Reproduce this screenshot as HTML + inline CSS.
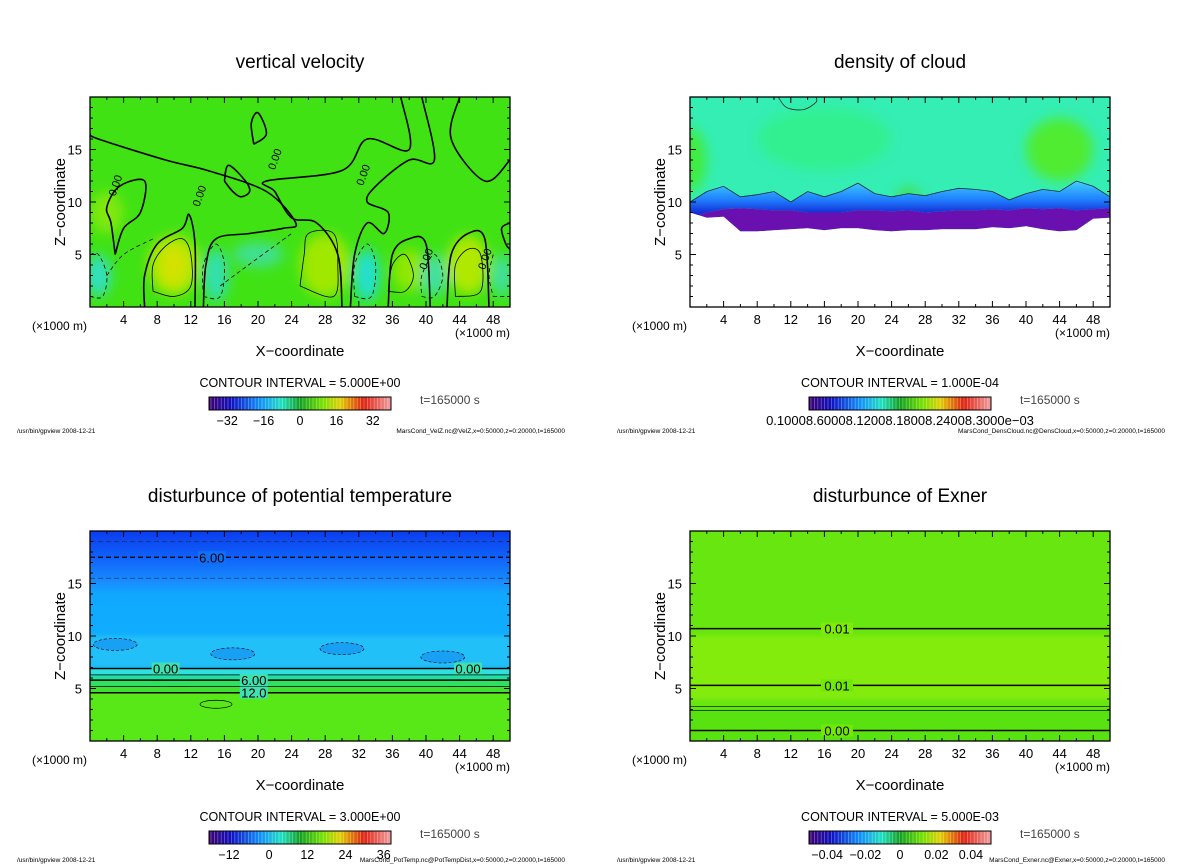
<!DOCTYPE html>
<html><head><meta charset="utf-8">
<style>
body{margin:0;background:#fff;width:1200px;height:868px;overflow:hidden;font-family:"Liberation Sans",sans-serif}
svg{position:absolute;left:0;top:0}
</style></head>
<body>
<svg id="root" width="1200" height="868" viewBox="0 0 1200 868">
<defs>
<filter id="blur6" x="-50%" y="-50%" width="200%" height="200%"><feGaussianBlur stdDeviation="6"/></filter>
<filter id="blur3"><feGaussianBlur stdDeviation="2.5"/></filter>
<linearGradient id="cbar" x1="0" x2="1" y1="0" y2="0">
<stop offset="0" stop-color="#400070"/><stop offset="0.12" stop-color="#1010c0"/><stop offset="0.28" stop-color="#1090ff"/><stop offset="0.4" stop-color="#20e0c0"/><stop offset="0.5" stop-color="#10a020"/><stop offset="0.62" stop-color="#70e000"/><stop offset="0.72" stop-color="#e0d000"/><stop offset="0.85" stop-color="#e02010"/><stop offset="1" stop-color="#f0a0a0"/>
</linearGradient>
<linearGradient id="tempTop" x1="0" x2="0" y1="0" y2="1">
<stop offset="0" stop-color="#0a3cf0"/><stop offset="0.12" stop-color="#1060f8"/><stop offset="0.25" stop-color="#1890ff"/><stop offset="0.3" stop-color="#10a8ff"/><stop offset="1" stop-color="#10b8ff"/>
</linearGradient>
<linearGradient id="cloudBand" x1="0" x2="0" y1="0" y2="1">
<stop offset="0" stop-color="#40d0ff"/><stop offset="0.5" stop-color="#2080ff"/><stop offset="1" stop-color="#1010c8"/>
</linearGradient>
</defs>
</svg>
<script>
// ---- data ----
const xTickVals=[4,8,12,16,20,24,28,32,36,40,44,48];
const zTickVals=[5,10,15];
const panelTitles=["vertical velocity","density of cloud","disturbunce of potential temperature","disturbunce of Exner"];
const intervals=["CONTOUR INTERVAL = 5.000E+00","CONTOUR INTERVAL = 1.000E-04","CONTOUR INTERVAL = 3.000E+00","CONTOUR INTERVAL = 5.000E-03"];
const cbLabels=[["-32","-16","0","16","32"],[],["-12","0","12","24","36"],["-0.04","-0.02","0","0.02","0.04"]];
const cbLabelFrac=[[0.1,0.3,0.5,0.7,0.9],[],[0.11,0.33,0.54,0.75,0.96],[0.1,0.31,0.5,0.7,0.89]];
const footers=["MarsCond_VelZ.nc@VelZ,x=0:50000,z=0:20000,t=165000","MarsCond_DensCloud.nc@DensCloud,x=0:50000,z=0:20000,t=165000","MarsCond_PotTemp.nc@PotTempDist,x=0:50000,z=0:20000,t=165000","MarsCond_Exner.nc@Exner,x=0:50000,z=0:20000,t=165000"];
const velBlobs=[[10,4,3,2.8,"#b8e800"],[10,4,1.2,1.8,"#d8e000"],[28,4,3,3,"#a0e800"],[45,4,2.5,2.8,"#b0e800"],[38,3.5,2,2,"#90e800"],[2,9,2,2,"#80e810"],
[1,3,1.5,2,"#30e0c0"],[15,3,1.5,2.5,"#30e0b0"],[33,3,1.5,2.5,"#20e0d0"],[41,3,1.5,2,"#40e0a0"],[49,3,1.2,2,"#40e0a0"],[20,5,3,1.2,"#40e090"]];
const velZeroLines=[
[[6.5,0],[6.5,3],[8,6],[11,7.5],[11.8,8.8],[12.5,6],[12.5,0]],
[[13.5,0],[13.8,4],[15,6.5],[19,7],[23,7.5],[24.5,8],[21,11],[14,13],[9,14],[1,16],[0,16.5]],
[[30,0],[29.5,5],[27,8],[24,8.5],[22,11],[21,12],[30,13],[33,16],[38,15],[37,20]],
[[31,0],[31.5,5],[33,8],[35,7],[35.5,9],[33,10],[34,11.5],[38,14],[41,14],[39.5,20]],
[[35.5,0],[36,5],[38,6.5],[40,6],[40.5,0]],
[[42.5,0],[43,5],[45,7],[47,6.5],[47.5,0]],
[[3,5],[2.5,8],[2,9.5],[3.5,11.5],[6.5,12],[6,9],[4,7.5],[3,5]],
[[16,12],[17,11],[18,10.5],[19,11],[18.5,12],[16.5,13.5],[16,12]],
[[44,20],[43,16],[47,12],[50,14]],
[[50,8],[49,7.5],[49.5,6],[50,5.5]],
[[19.5,15.5],[19.2,17.5],[20,18.5],[21,16.5],[19.5,15.5]]];
const velThin=[[[7.5,1.5],[7.5,4],[9,5.8],[11,6.5],[12,5],[12,2],[10,1],[7.5,1.5]],
[[25,2],[25.5,5],[26,7],[29,7],[29.5,4],[29,1],[25,2]],[[43.5,1],[43.5,4],[45,5.5],[46.5,5],[46.5,1.5],[43.5,1]],
[[35.5,1.5],[36,4],[37.5,5],[38.5,3],[37.5,1.5],[35.5,1.5]]];
const velDashed=[[[0,1],[1.5,1],[2,3],[1,5],[0,5]],[[13.5,1],[15.5,1],[16,4],[15,6],[13.5,4],[13.5,1]],[[15.5,2],[18,3.5],[24,7]],[[2,3],[4,5],[7.5,6.5]],
[[31.5,1],[33.5,1],[34,4],[33,6],[31.5,4],[31.5,1]],[[39.5,1],[41,1],[42,3],[41,5],[39.5,3],[39.5,1]],[[48,1],[50,1]],[[48,5],[47.5,3],[48,1]]];
const velLabels=[[3,10.5],[22,13],[32.5,11.5],[13,9.5],[40,3.5],[47,3.5]];
const cloudTop=[10,11,11.5,10.5,10.7,11,10,11,10.5,11,11.8,10.8,10.5,10.8,10.6,11,11.3,11.2,11,10.2,10.8,11.2,11,12,11.5,10.5];
const purpleTop=[8.5,9,9.3,9.4,9.3,9.2,9.2,9,9,9,9.2,9.2,9.1,9.2,9,9.1,9.2,9.2,9.3,9.2,9.4,9.3,9.4,9.2,9.3,9.4];
const purpleBot=[9,8.5,8.6,7.2,7.2,7.3,7.4,7.5,7.3,7.5,7.5,7.3,7.2,7.3,7.3,7.4,7.4,7.4,7.6,7.5,7.7,7.4,7.2,7.3,8.4,8.5];
const cloudBlobs=[[0,14,2,3,"#40ec40"],[44,15,4,3,"#50ec30"],[26,10.5,1.5,1,"#40e060"],[16,16,8,3,"#30f090"]];
const tempBands=[[7,"#30e0e0"],[6.3,"#20e0a0"],[5.8,"#30e060"],[5.2,"#40e030"],[4.6,"#58e818"]];
const tempContours=[6.9,5.8,4.6];
const tempContourLabels=[["0.00",9],["0.00",45],["6.00",19.5],["12.0",19.5]];
const exnerLines=[10.7,5.3,1.0];
const exnerLineLabels=["0.01","0.01","0.00"];
const exnerThin=[2.9,3.3];

// ---- helpers ----
const NS="http://www.w3.org/2000/svg";
const root=document.getElementById('root');
function mk(tag,attrs,parent){const e=document.createElementNS(NS,tag);for(const k in attrs)e.setAttribute(k,attrs[k]);(parent||root).appendChild(e);return e;}
function txt(s,x,y,size,attrs,parent){const t=mk('text',Object.assign({x:x,y:y,'font-size':size,'font-family':'"Liberation Sans",sans-serif'},attrs||{}),parent);t.textContent=s;return t;}
const panels=[{ox:90,oy:97},{ox:690,oy:97},{ox:90,oy:531},{ox:690,oy:531}];
const W=420,H=210;
function axes(p){return {px:x=>p.ox+x/50*W,pz:z=>p.oy+(20-z)/20*H};}
function pathOf(pts,a,close){return pts.map((q,i)=>(i?'L':'M')+a.px(q[0]).toFixed(1)+','+a.pz(q[1]).toFixed(1)).join('')+(close?'Z':'');}
function smoothOf(pts,a){
  const P=pts.map(q=>[a.px(q[0]),a.pz(q[1])]);
  let d='M'+P[0][0].toFixed(1)+','+P[0][1].toFixed(1);
  for(let i=0;i<P.length-1;i++){
    const p0=P[Math.max(0,i-1)],p1=P[i],p2=P[i+1],p3=P[Math.min(P.length-1,i+2)];
    const c1=[p1[0]+(p2[0]-p0[0])/6,p1[1]+(p2[1]-p0[1])/6],c2=[p2[0]-(p3[0]-p1[0])/6,p2[1]-(p3[1]-p1[1])/6];
    d+='C'+c1.map(v=>v.toFixed(1)).join(',')+' '+c2.map(v=>v.toFixed(1)).join(',')+' '+p2.map(v=>v.toFixed(1)).join(',');
  }
  return d;
}

panels.forEach((p,i)=>{
  const g=mk('g',{});
  
  
  const a=axes(p);
  const cp=mk('clipPath',{id:'clip'+i},root);mk('rect',{x:p.ox,y:p.oy,width:W,height:H},cp);
  const f=mk('g',{'clip-path':'url(#clip'+i+')'},g);
  
  
  if(i===0){
    mk('rect',{x:p.ox,y:p.oy,width:W,height:H,fill:'#40e214'},f);
    const bg=mk('g',{filter:'url(#blur6)'},f);
    velBlobs.forEach(b=>{const e=mk('ellipse',{cx:a.px(b[0]),cy:a.pz(b[1]),rx:b[2]*W/50,ry:b[3]*H/20,fill:b[4]},bg);});
    velZeroLines.forEach(l=>{const e=mk('path',{d:smoothOf(l,a),fill:'none',stroke:'#000','stroke-width':1.6},f);});
    velThin.forEach(l=>{const e=mk('path',{d:smoothOf(l,a),fill:'none',stroke:'#000','stroke-width':0.8},f);});
    velDashed.forEach(l=>{const e=mk('path',{d:smoothOf(l,a),fill:'none',stroke:'#000','stroke-width':0.8,'stroke-dasharray':'4,3'},f);});
    velLabels.forEach(l=>{const t=txt('0.00',a.px(l[0]),a.pz(l[1]),11,{transform:'rotate(-70 '+a.px(l[0])+' '+a.pz(l[1])+')'},f);});
  } else if(i===1){
    mk('rect',{x:p.ox,y:p.oy,width:W,height:H,fill:'#34eeb4'},f);
    const bg=mk('g',{filter:'url(#blur6)'},f);
    cloudBlobs.forEach(b=>{mk('ellipse',{cx:a.px(b[0]),cy:a.pz(b[1]),rx:b[2]*W/50,ry:b[3]*H/20,fill:b[4]},bg);});
    const top=cloudTop.map((z,k)=>[k*2,z]);
    const pt=purpleTop.map((z,k)=>[k*2,z]);
    const pb=purpleBot.map((z,k)=>[k*2,z]);
    const band=mk('path',{d:pathOf(top.concat(pt.slice().reverse()),a,true),fill:'url(#cloudBand)'},f);
    
    const pur=mk('path',{d:pathOf(pt.concat(pb.slice().reverse()),a,true),fill:'#6a10b0'},f);
    
    mk('path',{d:pathOf(pb.concat([[50,0],[0,0]]),a,true),fill:'#fff'},f);
    const c=mk('path',{d:pathOf(top,a),fill:'none',stroke:'#0a3030','stroke-width':0.8},f);
    
    mk('path',{d:smoothOf([[10.5,20],[11.5,19],[13.5,18.8],[15,19.5],[15,20]],a),fill:'none',stroke:'#0a3030','stroke-width':0.8},f);
  } else if(i===2){
    mk('rect',{x:p.ox,y:p.oy,width:W,height:H,fill:'url(#tempTop)'},f);
    mk('rect',{x:p.ox,y:a.pz(10),width:W,height:a.pz(7)-a.pz(10),fill:'#20c0f8',filter:'url(#blur3)'},f);
    tempBands.forEach(b=>{const r=mk('rect',{x:p.ox,y:a.pz(b[0]),width:W,height:a.pz(0)-a.pz(b[0]),fill:b[1]},f);});
    [[3,9.2],[17,8.3],[30,8.8],[42,8]].forEach(c=>{const e=mk('ellipse',{cx:a.px(c[0]),cy:a.pz(c[1]),rx:22,ry:6,fill:'#18a0f4',stroke:'#000','stroke-width':0.6,'stroke-dasharray':'3,2'},f);});
    [17.5,15.5,19].forEach((z,k)=>{const l=mk('line',{x1:p.ox,x2:p.ox+W,y1:a.pz(z),y2:a.pz(z),stroke:k===0?'#000':'#235','stroke-width':k===0?1.2:0.8,'stroke-dasharray':'5,3'},f);});
    tempContours.forEach((z,k)=>{const l=mk('line',{x1:p.ox,x2:p.ox+W,y1:a.pz(z),y2:a.pz(z),stroke:'#000','stroke-width':1.5},f);});
    [6.3,5.2].forEach(z=>mk('line',{x1:p.ox,x2:p.ox+W,y1:a.pz(z),y2:a.pz(z),stroke:'#000','stroke-width':0.7},f));
    mk('ellipse',{cx:a.px(15),cy:a.pz(3.5),rx:16,ry:4,fill:'none',stroke:'#000','stroke-width':0.7},f);
    const lab=[["6.00",14.5,17.5]].concat(tempContourLabels.map((l,k)=>[l[0],l[1],k<2?6.9:(k===2?5.8:4.6)]));
    lab.forEach(l=>{const x=a.px(l[1]),y=a.pz(l[2]);mk('rect',{x:x-14,y:y-6,width:28,height:12,fill:l[2]>15?'#1070f8':'#40e0b0'},f);const t=txt(l[0],x,y+5,13,{'text-anchor':'middle'},f);});
  } else {
    mk('rect',{x:p.ox,y:p.oy,width:W,height:H,fill:'#68e610'},f);
    const b=mk('rect',{x:p.ox,y:a.pz(10),width:W,height:a.pz(4)-a.pz(10),fill:'#84ec08',filter:'url(#blur3)'},f);
    
    mk('rect',{x:p.ox,y:a.pz(3.1),width:W,height:a.pz(0)-a.pz(3.1),fill:'#58e210'},f);
    exnerThin.forEach(z=>mk('line',{x1:p.ox,x2:p.ox+W,y1:a.pz(z),y2:a.pz(z),stroke:'#000','stroke-width':0.6},f));
    exnerLines.forEach((z,k)=>{const l=mk('line',{x1:p.ox,x2:p.ox+W,y1:a.pz(z),y2:a.pz(z),stroke:'#000','stroke-width':1.5},f);
      const x=a.px(17.5),y=a.pz(z);mk('rect',{x:x-16,y:y-6,width:32,height:12,fill:k===0?'#80ea08':'#70e808'},f);const t=txt(exnerLineLabels[k],x,y+5,13,{'text-anchor':'middle'},f);});
  }
  mk('rect',{x:p.ox,y:p.oy,width:W,height:H,fill:'none',stroke:'#000','stroke-width':1.3},g);
  for(let x=2;x<50;x+=2){const big=x%4===0;const len=big?6:3;
    mk('line',{x1:a.px(x),x2:a.px(x),y1:p.oy+H,y2:p.oy+H-len,stroke:'#000'},g);
    mk('line',{x1:a.px(x),x2:a.px(x),y1:p.oy,y2:p.oy+len,stroke:'#000'},g);}
  for(let z=1;z<20;z++){const big=z%5===0;const len=big?6:3;
    mk('line',{x1:p.ox,x2:p.ox+len,y1:a.pz(z),y2:a.pz(z),stroke:'#000'},g);
    mk('line',{x1:p.ox+W,x2:p.ox+W-len,y1:a.pz(z),y2:a.pz(z),stroke:'#000'},g);}
  xTickVals.forEach(v=>{const t=txt(String(v),a.px(v),p.oy+H+17,13,{'text-anchor':'middle'},g);});
  zTickVals.forEach(v=>{const t=txt(String(v),p.ox-8,a.pz(v)+5,13,{'text-anchor':'end'},g);});
  let t;
  t=txt(panelTitles[i],p.ox+210,p.oy-29,19,{'text-anchor':'middle'},g);
  t=txt('Z\u2212coordinate',0,0,15,{'text-anchor':'middle',transform:'translate('+(p.ox-25)+','+(p.oy+105)+') rotate(-90)'},g);
  t=txt('X\u2212coordinate',p.ox+210,p.oy+H+49,15,{'text-anchor':'middle'},g);
  t=txt('(\u00d71000 m)',p.ox-58,p.oy+H+23,12,{},g);
  t=txt('(\u00d71000 m)',p.ox+365,p.oy+H+30,12,{},g);
  t=txt(intervals[i],p.ox+210,p.oy+290,12.5,{'text-anchor':'middle'},g);
  t=txt('t=165000 s',p.ox+330,p.oy+307,12,{fill:'#444'},g);
  const cx=p.ox+119,cy=p.oy+300,cw=182,ch=13;
  const cb=mk('g',{},g);
  mk('rect',{x:cx,y:cy,width:cw,height:ch,fill:'url(#cbar)'},cb);
  for(let k=2;k<cw;k+=3.4)mk('line',{x1:cx+k,x2:cx+k,y1:cy,y2:cy+ch,stroke:'rgba(255,255,255,0.35)','stroke-width':0.8},cb);
  mk('rect',{x:cx,y:cy,width:cw,height:ch,fill:'none',stroke:'#000'},cb);
  cbLabels[i].forEach((s,k)=>{const t=txt(s.replace('-','\u2212'),cx+cbLabelFrac[i][k]*cw,cy+ch+15,12.5,{'text-anchor':'middle'},cb);});
  if(i===1){t=txt('0.10008.60008.12008.18008.24008.3000e\u221203',cx+cw/2,cy+ch+15,13,{'text-anchor':'middle'},cb);}
  const fy=p.oy+(i<2?336:331);
  t=txt('/usr/bin/gpview   2008-12-21',p.ox-73,fy,6.5,{},g);
  t=txt(footers[i],p.ox+475,fy,6.5,{'text-anchor':'end'},g);
});
</script>
</body></html>
